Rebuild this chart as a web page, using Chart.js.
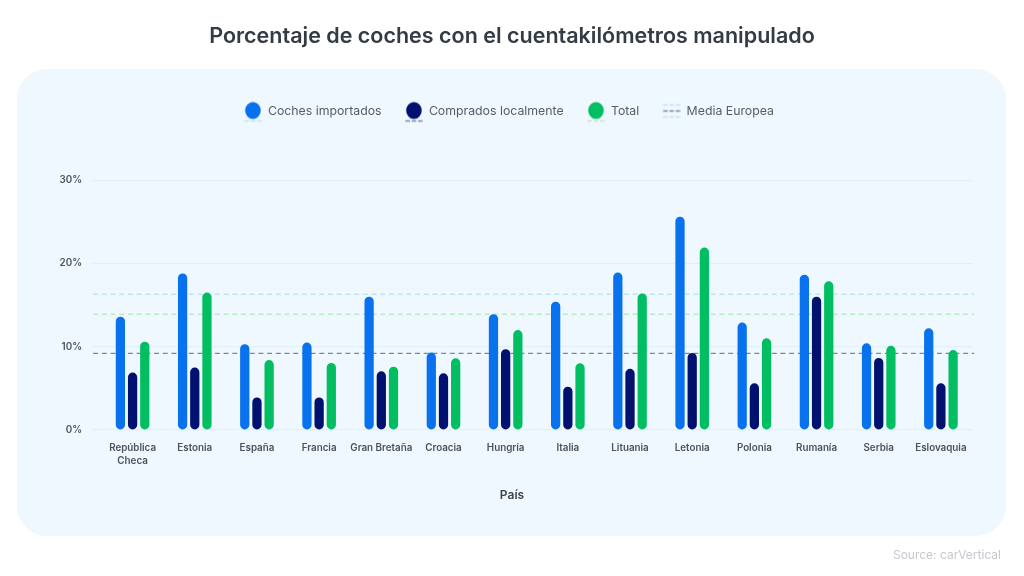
<!DOCTYPE html>
<html lang="es">
<head>
<meta charset="utf-8">
<title>Porcentaje de coches con el cuentakilómetros manipulado</title>
<style>
html,body{margin:0;padding:0;background:#fff;width:1024px;height:576px;overflow:hidden}
#panel{position:absolute;left:17px;top:69px;width:989px;height:467px;border-radius:30px;background:#EFF8FE}
#wrap{position:absolute;left:0;top:0;width:1024px;height:576px}
</style>
<script src="https://cdn.jsdelivr.net/npm/chart.js@4/dist/chart.umd.min.js"></script>
</head>
<body>
<div id="panel"></div>
<div id="wrap"><canvas id="c" width="1024" height="576"></canvas></div>
<script>
const categories = [['República','Checa'],'Estonia','España','Francia','Gran Bretaña','Croacia','Hungría','Italia','Lituania','Letonia','Polonia','Rumanía','Serbia','Eslovaquia'];
const importados = [13.6,18.8,10.3,10.5,16.0,9.3,13.9,15.4,18.9,25.6,12.9,18.65,10.4,12.2];
const locales    = [6.9,7.5,3.9,3.9,7.05,6.8,9.7,5.2,7.35,9.25,5.6,16.0,8.65,5.6];
const total      = [10.6,16.5,8.4,8.05,7.6,8.6,12.0,8.0,16.4,21.9,11.0,17.85,10.1,9.6];
const mediaImportados = 16.3;
const mediaLocales = 9.2;
const mediaTotal = 13.9;
const sourceText = 'Source: carVertical';

const BLUE='#0771EE', NAVY='#00116F', GREEN='#02BE62';
const L_BLUE='#BDE5EC', L_NAVY='#7A85AE', L_GREEN='#BCE9C6';
const FONT='Inter';

function icon(color, dash){
  const cv=document.createElement('canvas');cv.width=26;cv.height=26;
  const x=cv.getContext('2d');
  x.fillStyle=color;x.beginPath();x.ellipse(13,12,7.8,8.6,0,0,Math.PI*2);x.fill();
  x.strokeStyle=dash;x.lineWidth=1.3;x.setLineDash([4.5,1.8]);
  x.beginPath();x.moveTo(4.5,22.5);x.lineTo(22,22.5);x.stroke();
  return cv;
}
function iconMedia(){
  const cv=document.createElement('canvas');cv.width=26;cv.height=26;
  const x=cv.getContext('2d');x.lineWidth=1.3;x.setLineDash([4.5,1.8]);
  [[L_BLUE,6],[L_NAVY,12],[L_GREEN,18]].forEach(([c,y])=>{
    x.strokeStyle=c;x.beginPath();x.moveTo(4.5,y+.5);x.lineTo(22,y+.5);x.stroke();
  });
  return cv;
}
const legendItems=[
 {text:'Coches importados',pointStyle:icon(BLUE,L_BLUE)},
 {text:'Comprados localmente',pointStyle:icon(NAVY,L_NAVY)},
 {text:'Total',pointStyle:icon(GREEN,L_GREEN)},
 {text:'Media Europea',pointStyle:iconMedia()}
];
function bar(label,data,color){
  return {type:'bar',label,data,backgroundColor:color,order:1,
    borderRadius:4.7,borderSkipped:false,
    categoryPercentage:0.588,barPercentage:0.76};
}
function avg(label,v,color){
  return {type:'line',label,order:2,clip:false,parsing:false,normalized:true,
    data:[{x:-0.635,y:v},{x:13.535,y:v}],
    borderColor:color,borderWidth:1.4,borderDash:[5,3.7],pointRadius:0,tension:0,fill:false};
}
const sourcePlugin={id:'source',
  afterLayout(ch){ ch.legend.left-=3; ch.legend.right-=3; },
  afterDraw(ch){
    const c=ch.ctx;c.save();c.font='400 12px '+FONT;c.fillStyle='#C4C9CE';
    c.textAlign='right';c.textBaseline='middle';c.fillText(sourceText,1001,555);c.restore();
  }};
Chart.defaults.font.family=FONT;
new Chart(document.getElementById('c'),{
  plugins:[sourcePlugin],
  data:{labels:categories,datasets:[
    bar('Coches importados',importados,BLUE),
    bar('Comprados localmente',locales,NAVY),
    bar('Total',total,GREEN),
    avg('Media importados',mediaImportados,L_BLUE),
    avg('Media total',mediaTotal,L_GREEN),
    avg('Media localmente',mediaLocales,L_NAVY)
  ]},
  options:{
    responsive:false,animation:false,devicePixelRatio:1,
    plugins:{
      tooltip:{enabled:false},
      title:{display:true,text:'Porcentaje de coches con el cuentakilómetros manipulado',
        color:'#333B44',font:{family:FONT,size:21.5,weight:'600'},padding:{top:24,bottom:32}},
      subtitle:{display:true,position:'bottom',text:'País',color:'#3A424C',
        font:{family:FONT,size:12,weight:'600'},padding:{top:0,bottom:73}},
      legend:{display:true,position:'top',
        labels:{usePointStyle:true,pointStyleWidth:17.7,padding:23.5,color:'#555D66',
          font:{family:FONT,size:12.3,weight:'400'},
          generateLabels:()=>legendItems.map(i=>({text:i.text,pointStyle:i.pointStyle,fontColor:'#555D66',lineWidth:0,hidden:false}))}}
    },
    scales:{
      x:{type:'category',offset:true,
        grid:{display:false},border:{display:false},
        ticks:{color:'#4A5260',font:{family:FONT,size:9.8,weight:'600',lineHeight:1.3},padding:4,maxRotation:0,autoSkip:false},
        afterFit(s){s.height=58.6;}
      },
      xTop:{type:'linear',position:'top',min:0,max:1,
        ticks:{display:false},grid:{display:false},border:{display:false},
        afterFit(s){s.height=52.5;}
      },
      y:{type:'linear',min:0,max:30,
        border:{display:false},
        grid:{color:'#DFF0F9',lineWidth:1.2,tickColor:'#DFF0F9',tickLength:8.5,drawTicks:true},
        ticks:{stepSize:10,padding:11,color:'#4A5260',font:{family:FONT,size:9.8,weight:'600'},callback:v=>v+'%'},
        afterFit(s){s.width=101.5;}
      },
      yRight:{type:'linear',position:'right',min:0,max:30,
        ticks:{display:false},grid:{display:false},border:{display:false},
        afterFit(s){s.width=52;}
      }
    }
  }
});
</script>
</body>
</html>
